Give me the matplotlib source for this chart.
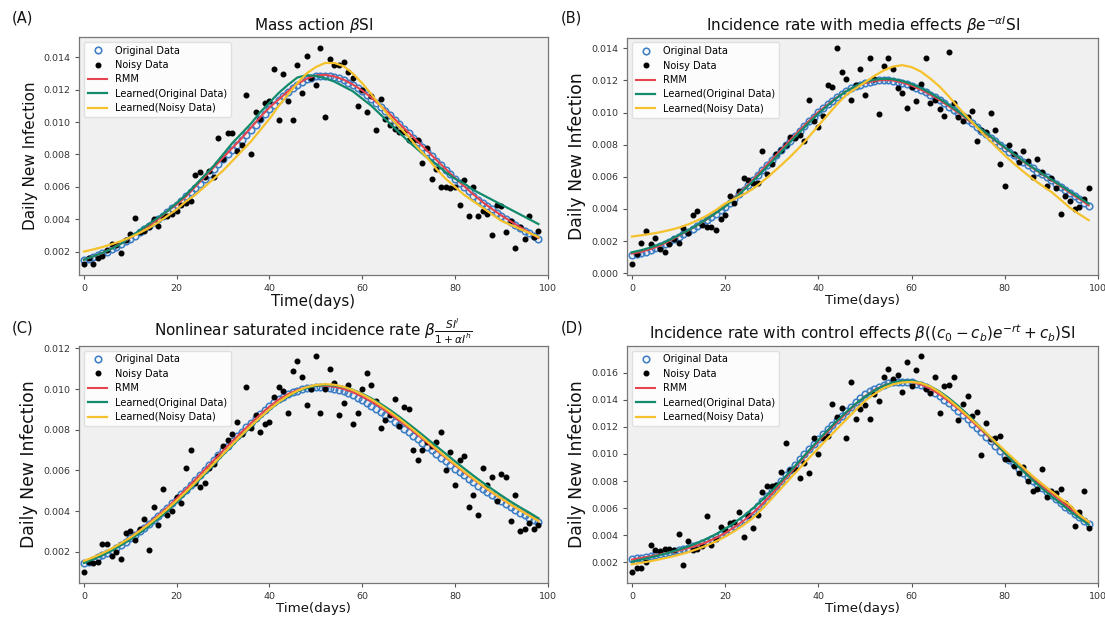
import matplotlib
matplotlib.use("Agg")
import matplotlib.pyplot as plt

# ---------------- data ----------------
days = list(range(99))
line_days = list(range(0, 99, 2))

panel_labels = ["(A)", "(B)", "(C)", "(D)"]
titles = [
    r"Mass action $\beta$SI",
    r"Incidence rate with media effects $\beta e^{-\alpha I}$SI",
    r"Nonlinear saturated incidence rate $\beta\frac{SI^l}{1+\alpha I^h}$",
    r"Incidence rate with control effects $\beta((c_0-c_b)e^{-rt}+c_b)$SI",
]
series_names = ["Original Data", "Noisy Data", "RMM",
                "Learned(Original Data)", "Learned(Noisy Data)"]

# ---- Panel A ----
a_noisy = [0.00125, 0.00162, 0.00125, 0.00158, 0.00172, 0.0021, 0.00245, 0.0024, 0.0019, 0.0027,
           0.0031, 0.0041, 0.0032, 0.0033, 0.0035, 0.0040, 0.0036, 0.0042, 0.0042, 0.0043,
           0.0045, 0.0049, 0.0050, 0.0051, 0.0067, 0.0069, 0.0066, 0.0070, 0.0066, 0.0090,
           0.0077, 0.0093, 0.0093, 0.0082, 0.0086, 0.0117, 0.0080, 0.0106, 0.0102, 0.0112,
           0.0113, 0.0133, 0.0101, 0.0130, 0.0113, 0.0101, 0.0135, 0.0118, 0.0141, 0.0127,
           0.0123, 0.0146, 0.0103, 0.0139, 0.0135, 0.0135, 0.0137, 0.0131, 0.0127, 0.0110,
           0.0120, 0.0106, 0.0116, 0.0095, 0.0114, 0.0102, 0.0098, 0.0096, 0.0094, 0.0094,
           0.0089, 0.0089, 0.0089, 0.0075, 0.0084, 0.0065, 0.0071, 0.0060, 0.0060, 0.0059,
           0.0060, 0.0049, 0.0064, 0.0042, 0.0060, 0.0042, 0.0045, 0.0043, 0.0030, 0.0049,
           0.0048, 0.0032, 0.0039, 0.0022, 0.0035, 0.0028, 0.0042, 0.0029, 0.0033]
a_orig = [0.00145, 0.00155, 0.00165, 0.00176, 0.00188, 0.00200, 0.00215, 0.00230, 0.00246, 0.00263,
          0.00280, 0.00299, 0.00318, 0.00338, 0.00359, 0.00380, 0.00401, 0.00422, 0.00444, 0.00467,
          0.00490, 0.00515, 0.00541, 0.00567, 0.00593, 0.00620, 0.00650, 0.00680, 0.00710, 0.00740,
          0.00770, 0.00800, 0.00830, 0.00860, 0.00890, 0.00920, 0.00952, 0.00984, 0.01016, 0.01048,
          0.01080, 0.01108, 0.01135, 0.01162, 0.01187, 0.01210, 0.01230, 0.01248, 0.01263, 0.01275,
          0.01283, 0.01287, 0.01287, 0.01284, 0.01278, 0.01270, 0.01258, 0.01243, 0.01226, 0.01208,
          0.01190, 0.01167, 0.01143, 0.01118, 0.01094, 0.01070, 0.01042, 0.01014, 0.00986, 0.00958,
          0.00930, 0.00902, 0.00874, 0.00846, 0.00818, 0.00790, 0.00762, 0.00734, 0.00706, 0.00678,
          0.00650, 0.00624, 0.00598, 0.00572, 0.00546, 0.00520, 0.00500, 0.00480, 0.00460, 0.00440,
          0.00420, 0.00402, 0.00384, 0.00366, 0.00348, 0.00330, 0.00313, 0.00296, 0.00280]
a_rmm = [0.0015, 0.0017, 0.0019, 0.0022, 0.0025, 0.00285, 0.0032, 0.0036, 0.0040, 0.0045,
         0.0049, 0.0054, 0.0060, 0.0066, 0.0072, 0.0078, 0.0084, 0.0090, 0.00965, 0.0103,
         0.0109, 0.0114, 0.0119, 0.01235, 0.01268, 0.01288, 0.01292, 0.01282, 0.01262, 0.01232,
         0.01195, 0.0115, 0.0110, 0.01048, 0.0099, 0.00935, 0.0088, 0.00823, 0.00766, 0.0071,
         0.00655, 0.00603, 0.00552, 0.00505, 0.00463, 0.00423, 0.00387, 0.00352, 0.00318, 0.00285]
a_learn_orig = [0.0015, 0.0017, 0.00192, 0.00218, 0.00248, 0.0029, 0.0033, 0.0037, 0.0041, 0.0045,
                0.0050, 0.0055, 0.0061, 0.0067, 0.0073, 0.0080, 0.0087, 0.0093, 0.0099, 0.0106,
                0.0112, 0.0118, 0.0123, 0.01275, 0.0129, 0.01285, 0.0127, 0.0125, 0.0122, 0.0119,
                0.01145, 0.0110, 0.01045, 0.0099, 0.00935, 0.0088, 0.0083, 0.0078, 0.0074, 0.0069,
                0.0065, 0.0062, 0.0058, 0.0055, 0.0052, 0.0049, 0.0046, 0.0043, 0.0040, 0.0037]
a_learn_noisy = [0.0020, 0.00213, 0.00228, 0.00245, 0.00265, 0.00288, 0.00315, 0.00345, 0.0038, 0.0042,
                 0.0046, 0.0051, 0.0055, 0.0060, 0.0065, 0.0070, 0.0076, 0.0082, 0.0088, 0.0095,
                 0.0102, 0.0110, 0.0117, 0.0124, 0.0130, 0.0134, 0.01365, 0.01365, 0.01345, 0.0130,
                 0.0124, 0.0117, 0.0110, 0.0103, 0.0097, 0.0091, 0.0084, 0.0078, 0.0071, 0.0065,
                 0.0060, 0.0055, 0.0051, 0.0047, 0.0043, 0.0039, 0.00365, 0.0034, 0.00315, 0.0029]

# ---- Panel B ----
b_noisy = [0.00056, 0.0012, 0.0019, 0.0026, 0.0018, 0.0022, 0.0015, 0.0013, 0.0018, 0.0021,
           0.0019, 0.0028, 0.0025, 0.0036, 0.0039, 0.0030, 0.0029, 0.0029, 0.0027, 0.0034,
           0.0036, 0.0048, 0.0044, 0.0051, 0.0059, 0.0058, 0.0056, 0.0056, 0.0076, 0.0062,
           0.0068, 0.0074, 0.0077, 0.0080, 0.0085, 0.0084, 0.0086, 0.0082, 0.0108, 0.0095,
           0.0091, 0.0098, 0.0117, 0.0116, 0.0140, 0.0125, 0.0121, 0.0108, 0.0117, 0.0127,
           0.0111, 0.0134, 0.0121, 0.0099, 0.0129, 0.0134, 0.0127, 0.0115, 0.0112, 0.0103,
           0.0116, 0.0107, 0.0118, 0.0134, 0.0106, 0.0108, 0.0102, 0.0098, 0.0138, 0.0106,
           0.0097, 0.0095, 0.0097, 0.0101, 0.0082, 0.0089, 0.0088, 0.0100, 0.0089, 0.0068,
           0.0054, 0.0080, 0.0074, 0.0069, 0.0076, 0.0070, 0.0060, 0.0071, 0.0063, 0.0054,
           0.0059, 0.0053, 0.0037, 0.0048, 0.0045, 0.0040, 0.0041, 0.0046, 0.0053]
b_orig = [0.00114, 0.00120, 0.00127, 0.00135, 0.00145, 0.00155, 0.00168, 0.00182, 0.00196, 0.00211,
          0.00227, 0.00243, 0.00259, 0.00276, 0.00293, 0.00310, 0.00329, 0.00349, 0.00370, 0.00391,
          0.00413, 0.00439, 0.00465, 0.00492, 0.00520, 0.00548, 0.00578, 0.00609, 0.00640, 0.00671,
          0.00702, 0.00733, 0.00764, 0.00795, 0.00826, 0.00857, 0.00887, 0.00916, 0.00945, 0.00974,
          0.01002, 0.01027, 0.01051, 0.01074, 0.01096, 0.01116, 0.01134, 0.01150, 0.01164, 0.01174,
          0.01182, 0.01190, 0.01196, 0.01200, 0.01202, 0.01202, 0.01199, 0.01193, 0.01186, 0.01177,
          0.01167, 0.01154, 0.01140, 0.01126, 0.01111, 0.01095, 0.01076, 0.01057, 0.01037, 0.01018,
          0.00998, 0.00976, 0.00954, 0.00932, 0.00910, 0.00888, 0.00866, 0.00844, 0.00822, 0.00800,
          0.00779, 0.00757, 0.00735, 0.00713, 0.00692, 0.00671, 0.00652, 0.00633, 0.00615, 0.00597,
          0.00579, 0.00558, 0.00538, 0.00518, 0.00498, 0.00480, 0.00460, 0.00440, 0.00420]
b_rmm = [0.00122, 0.00133, 0.0015, 0.00172, 0.0020, 0.00232, 0.00264, 0.00298, 0.00334, 0.00375,
         0.00418, 0.0047, 0.00525, 0.00583, 0.00645, 0.00706, 0.00768, 0.0083, 0.0089, 0.00948,
         0.01003, 0.0105, 0.01095, 0.01133, 0.01163, 0.01183, 0.01197, 0.01203, 0.0120, 0.01187,
         0.01168, 0.01142, 0.01112, 0.01078, 0.01039, 0.0100, 0.00956, 0.00912, 0.00868, 0.00824,
         0.0078, 0.00737, 0.00694, 0.00654, 0.00617, 0.0058, 0.0054, 0.0050, 0.00462, 0.00423]
b_learn_orig = [0.0013, 0.00143, 0.0016, 0.0018, 0.00206, 0.00236, 0.00266, 0.0030, 0.00336, 0.00375,
                0.00415, 0.00465, 0.00518, 0.00574, 0.00633, 0.00693, 0.00755, 0.00817, 0.00878, 0.00937,
                0.00993, 0.01044, 0.01092, 0.01133, 0.01166, 0.0119, 0.01205, 0.0121, 0.01208, 0.01196,
                0.01178, 0.01153, 0.01122, 0.01087, 0.01048, 0.01007, 0.00963, 0.00918, 0.00873, 0.00828,
                0.00784, 0.0074, 0.00698, 0.00658, 0.0062, 0.00584, 0.00546, 0.00508, 0.0047, 0.00433]
b_learn_noisy = [0.00228, 0.00236, 0.00245, 0.00255, 0.00268, 0.00283, 0.00303, 0.00328, 0.00357, 0.00393,
                 0.00434, 0.00462, 0.00491, 0.00526, 0.00571, 0.0062, 0.00672, 0.00726, 0.00785, 0.0085,
                 0.00919, 0.00985, 0.01052, 0.0111, 0.0115, 0.01188, 0.01228, 0.01262, 0.01286, 0.01295,
                 0.01283, 0.01255, 0.01212, 0.01162, 0.0110, 0.01033, 0.00971, 0.00909, 0.00849, 0.0079,
                 0.00733, 0.00681, 0.00632, 0.00587, 0.00545, 0.00506, 0.00457, 0.00407, 0.00367, 0.0033]

# ---- Panel C ----
c_noisy = [0.00102, 0.0015, 0.00143, 0.0015, 0.0024, 0.0024, 0.0018, 0.0020, 0.00163, 0.0029,
           0.0030, 0.0026, 0.0031, 0.00363, 0.0021, 0.0042, 0.0033, 0.0051, 0.0038, 0.0040,
           0.0047, 0.0044, 0.0061, 0.0070, 0.0054, 0.0052, 0.0054, 0.0061, 0.0063, 0.0067,
           0.0072, 0.0075, 0.0078, 0.0084, 0.0078, 0.0101, 0.0081, 0.0087, 0.0079, 0.0083,
           0.0084, 0.0096, 0.0101, 0.0099, 0.0088, 0.0109, 0.0114, 0.0106, 0.0092, 0.0100,
           0.0116, 0.0088, 0.0100, 0.0110, 0.0103, 0.0087, 0.0093, 0.0102, 0.0083, 0.0088,
           0.0100, 0.0108, 0.0102, 0.0094, 0.0081, 0.0085, 0.0087, 0.0095, 0.0082, 0.0091,
           0.0090, 0.0070, 0.0065, 0.0070, 0.0074, 0.0072, 0.0074, 0.0079, 0.0060, 0.0069,
           0.0053, 0.0065, 0.0067, 0.0042, 0.0048, 0.0038, 0.0061, 0.0053, 0.0057, 0.0045,
           0.0058, 0.0057, 0.0035, 0.0048, 0.0030, 0.0031, 0.0034, 0.0031, 0.0033]
c_orig = [0.00143, 0.00152, 0.00162, 0.00172, 0.00182, 0.00193, 0.00206, 0.00220, 0.00235, 0.00250,
          0.00266, 0.00283, 0.00300, 0.00318, 0.00336, 0.00355, 0.00375, 0.00395, 0.00416, 0.00438,
          0.00460, 0.00483, 0.00506, 0.00529, 0.00553, 0.00578, 0.00602, 0.00626, 0.00650, 0.00674,
          0.00698, 0.00721, 0.00744, 0.00767, 0.00790, 0.00812, 0.00834, 0.00856, 0.00877, 0.00898,
          0.00918, 0.00935, 0.00950, 0.00963, 0.00974, 0.00983, 0.00991, 0.00998, 0.01003, 0.01007,
          0.01009, 0.01010, 0.01009, 0.01006, 0.01002, 0.00996, 0.00988, 0.00979, 0.00969, 0.00958,
          0.00946, 0.00932, 0.00918, 0.00903, 0.00888, 0.00872, 0.00856, 0.00839, 0.00822, 0.00805,
          0.00788, 0.00770, 0.00752, 0.00734, 0.00716, 0.00698, 0.00680, 0.00662, 0.00644, 0.00626,
          0.00609, 0.00592, 0.00575, 0.00558, 0.00541, 0.00525, 0.00509, 0.00493, 0.00478, 0.00463,
          0.00448, 0.00434, 0.00420, 0.00406, 0.00393, 0.00380, 0.00368, 0.00356, 0.00345]
c_rmm = [0.00148, 0.00167, 0.00188, 0.00212, 0.0024, 0.0027, 0.00304, 0.0034, 0.00378, 0.00418,
         0.00462, 0.00507, 0.00554, 0.00602, 0.0065, 0.00697, 0.00743, 0.00788, 0.00832, 0.00874,
         0.00914, 0.00948, 0.00975, 0.00995, 0.01008, 0.01015, 0.01016, 0.01011, 0.0100, 0.00984,
         0.00963, 0.00938, 0.0091, 0.00878, 0.00845, 0.0081, 0.00774, 0.00737, 0.0070, 0.00663,
         0.00626, 0.0059, 0.00556, 0.00523, 0.00491, 0.00461, 0.00432, 0.00405, 0.0038, 0.00356]
c_learn_orig = [0.00145, 0.00163, 0.00183, 0.00206, 0.00232, 0.0026, 0.00292, 0.00326, 0.00363, 0.00402,
                0.00444, 0.00488, 0.00534, 0.00581, 0.00629, 0.00677, 0.00724, 0.0077, 0.00815, 0.00858,
                0.00898, 0.00934, 0.00964, 0.00988, 0.01005, 0.01016, 0.0102, 0.01018, 0.0101, 0.00996,
                0.00977, 0.00954, 0.00927, 0.00897, 0.00864, 0.00829, 0.00793, 0.00756, 0.00719, 0.00682,
                0.00645, 0.00609, 0.00574, 0.0054, 0.00508, 0.00477, 0.00447, 0.00419, 0.00393, 0.00365]
c_learn_noisy = [0.00155, 0.00173, 0.00193, 0.00216, 0.00242, 0.0027, 0.00302, 0.00336, 0.00372, 0.00411,
                 0.00452, 0.00495, 0.0054, 0.00587, 0.00634, 0.00681, 0.00728, 0.00774, 0.00818, 0.0086,
                 0.0090, 0.00936, 0.00967, 0.00991, 0.01009, 0.0102, 0.01024, 0.01021, 0.01011, 0.00995,
                 0.00974, 0.00949, 0.0092, 0.00888, 0.00854, 0.00818, 0.00781, 0.00743, 0.00705, 0.00667,
                 0.0063, 0.00594, 0.00559, 0.00525, 0.00493, 0.00462, 0.00433, 0.00405, 0.00378, 0.00352]

# ---- Panel D ----
d_noisy = [0.0013, 0.0016, 0.0016, 0.0020, 0.0033, 0.0029, 0.0028, 0.0030, 0.0030, 0.0029,
           0.0041, 0.0018, 0.0036, 0.0029, 0.0030, 0.0032, 0.0054, 0.0033, 0.0037, 0.0046,
           0.0044, 0.0049, 0.0050, 0.0057, 0.0039, 0.0055, 0.0045, 0.0055, 0.0072, 0.0076,
           0.0076, 0.0077, 0.0087, 0.0108, 0.0088, 0.0089, 0.0082, 0.0093, 0.0086, 0.0112,
           0.0100, 0.0112, 0.0113, 0.0137, 0.0127, 0.0134, 0.0112, 0.0153, 0.0126, 0.0133,
           0.0136, 0.0126, 0.0144, 0.0139, 0.0157, 0.0163, 0.0155, 0.0158, 0.0146, 0.0168,
           0.0150, 0.0162, 0.0172, 0.0148, 0.0145, 0.0157, 0.0130, 0.0150, 0.0151, 0.0157,
           0.0125, 0.0137, 0.0143, 0.0128, 0.0131, 0.0099, 0.0123, 0.0111, 0.0112, 0.0113,
           0.0096, 0.0096, 0.0091, 0.0086, 0.0090, 0.0080, 0.0073, 0.0074, 0.0089, 0.0068,
           0.0073, 0.0071, 0.0074, 0.0064, 0.0060, 0.0047, 0.0057, 0.0073, 0.0045]
d_orig = [0.00224, 0.00229, 0.00235, 0.00241, 0.00247, 0.00254, 0.00261, 0.00268, 0.00275, 0.00282,
          0.00290, 0.00299, 0.00308, 0.00318, 0.00329, 0.00340, 0.00355, 0.00371, 0.00388, 0.00406,
          0.00425, 0.00447, 0.00470, 0.00495, 0.00521, 0.00548, 0.00581, 0.00615, 0.00650, 0.00687,
          0.00724, 0.00763, 0.00802, 0.00841, 0.00880, 0.00920, 0.00959, 0.00997, 0.01036, 0.01074,
          0.01111, 0.01147, 0.01182, 0.01216, 0.01249, 0.01282, 0.01317, 0.01350, 0.01382, 0.01412,
          0.01440, 0.01462, 0.01481, 0.01498, 0.01512, 0.01522, 0.01530, 0.01534, 0.01535, 0.01533,
          0.01528, 0.01519, 0.01507, 0.01491, 0.01472, 0.01452, 0.01427, 0.01401, 0.01374, 0.01347,
          0.01319, 0.01288, 0.01256, 0.01224, 0.01192, 0.01160, 0.01126, 0.01092, 0.01057, 0.01022,
          0.00988, 0.00956, 0.00924, 0.00892, 0.00860, 0.00829, 0.00802, 0.00775, 0.00748, 0.00721,
          0.00694, 0.00666, 0.00638, 0.00610, 0.00583, 0.00557, 0.00531, 0.00506, 0.00481]
d_rmm = [0.0022, 0.00232, 0.00244, 0.00258, 0.00272, 0.00286, 0.00304, 0.00324, 0.00348, 0.0038,
         0.00416, 0.0046, 0.00508, 0.00565, 0.00632, 0.00705, 0.00783, 0.0086, 0.0094, 0.01017,
         0.01093, 0.01165, 0.01233, 0.0130, 0.01366, 0.01426, 0.01472, 0.01505, 0.01526, 0.01535,
         0.01531, 0.01513, 0.01482, 0.0144, 0.01388, 0.01333, 0.01272, 0.01208, 0.01143, 0.01075,
         0.01005, 0.0094, 0.00876, 0.00815, 0.00761, 0.00708, 0.00652, 0.00597, 0.00544, 0.00493]
d_learn_orig = [0.00205, 0.0022, 0.00236, 0.00253, 0.00272, 0.00293, 0.00316, 0.00342, 0.00372, 0.00407,
                0.00447, 0.00492, 0.00543, 0.00599, 0.00661, 0.00728, 0.00799, 0.00873, 0.0095, 0.01027,
                0.01103, 0.01176, 0.01245, 0.0131, 0.0137, 0.01423, 0.01468, 0.01503, 0.01527, 0.0154,
                0.01539, 0.01525, 0.01499, 0.01461, 0.01412, 0.01355, 0.01292, 0.01224, 0.01153, 0.0108,
                0.01008, 0.00938, 0.0087, 0.00806, 0.00745, 0.00688, 0.00634, 0.00578, 0.00527, 0.00478]
d_learn_noisy = [0.00185, 0.00196, 0.00208, 0.00222, 0.00237, 0.00254, 0.00274, 0.00297, 0.00323, 0.00354,
                 0.00389, 0.0043, 0.00476, 0.00528, 0.00596, 0.0067, 0.00745, 0.00822, 0.00895, 0.0097,
                 0.01042, 0.01115, 0.01185, 0.01255, 0.01325, 0.01392, 0.01442, 0.01486, 0.01514, 0.01528,
                 0.01532, 0.01524, 0.01498, 0.01455, 0.01402, 0.01343, 0.01282, 0.0122, 0.01157, 0.0109,
                 0.01025, 0.00961, 0.00898, 0.00836, 0.00779, 0.00724, 0.00671, 0.00621, 0.0055, 0.0050]

panels = [
    (a_orig, a_noisy, a_rmm, a_learn_orig, a_learn_noisy),
    (b_orig, b_noisy, b_rmm, b_learn_orig, b_learn_noisy),
    (c_orig, c_noisy, c_rmm, c_learn_orig, c_learn_noisy),
    (d_orig, d_noisy, d_rmm, d_learn_orig, d_learn_noisy),
]

# ---------------- style ----------------
W, H = 1105, 618
col_orig = "#3d7fc6"
col_rmm = "#e5444f"
col_lo = "#138a6b"
col_ln = "#f5c12c"

fig = plt.figure(figsize=(W / 100, H / 100), dpi=100)

def px_axes(l, t, r, b):
    return [l / W, 1 - b / H, (r - l) / W, (b - t) / H]

rects = [px_axes(79.3, 36.8, 547.7, 274.5),
         px_axes(627.3, 37.5, 1098.0, 275.0),
         px_axes(79.3, 345.7, 547.7, 582.5),
         px_axes(627.3, 345.7, 1098.0, 582.5)]
ylabel_sizes = [11, 12.4, 12.4, 12.4]
xlabel_sizes = [10.8, 9.6, 9.6, 9.6]
label_pos = [(12, 18), (561, 18), (12, 328), (561, 328)]

for i, (rect, data) in enumerate(zip(rects, panels)):
    orig, noisy, rmm, lo, ln = data
    ax = fig.add_axes(rect)
    ax.set_facecolor("#f0f0f0")
    ax.plot(days, orig, linestyle="none", marker="o", markersize=4.7,
            markerfacecolor="none", markeredgecolor=col_orig, markeredgewidth=1.15,
            label=series_names[0])
    ax.plot(days, noisy, linestyle="none", marker="o", markersize=3.3,
            color="black", label=series_names[1])
    ax.plot(line_days, rmm, color=col_rmm, lw=1.5, label=series_names[2])
    ax.plot(line_days, lo, color=col_lo, lw=1.6, label=series_names[3])
    ax.plot(line_days, ln, color=col_ln, lw=1.6, label=series_names[4])
    ax.set_xlim(-1, 100)
    ax.set_xticks([0, 20, 40, 60, 80, 100])
    ax.tick_params(labelsize=6.8, colors="#555555", labelcolor="#333333",
                   length=3, width=0.8)
    for sp in ax.spines.values():
        sp.set_color("#777777")
        sp.set_linewidth(0.9)
    ax.set_title(titles[i], fontsize=11, color="#111111", pad=5)
    ax.set_xlabel("Time(days)", fontsize=xlabel_sizes[i], color="#111111", labelpad=1)
    ax.set_ylabel("Daily New Infection", fontsize=ylabel_sizes[i], color="#111111")
    ax.legend(loc="upper left", fontsize=7, framealpha=0.85, edgecolor="#dddddd",
              fancybox=True, borderpad=0.4, labelspacing=0.45, handlelength=2.0)
    fig.text(label_pos[i][0] / W, 1 - label_pos[i][1] / H, panel_labels[i],
             fontsize=10.5, ha="left", va="center", color="#111111")

fig.savefig("out.png", dpi=100)
